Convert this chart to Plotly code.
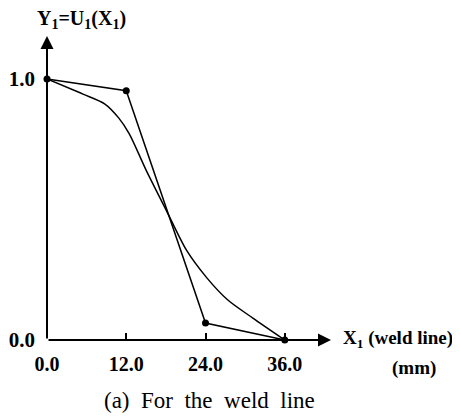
import plotly.graph_objects as go

# Control polygon (points with dots)
poly_x = [0.0, 12.0, 24.0, 36.0]
poly_y = [1.0, 0.955, 0.065, 0.0]

# Fitted membership curve
curve_x = [0.0, 5.45, 8.72, 10.85, 12.46, 15.04, 18.08, 21.12, 24.14, 27.38, 31.17, 36.0]
curve_y = [1.0, 0.942, 0.905, 0.851, 0.790, 0.649, 0.496, 0.344, 0.240, 0.153, 0.084, 0.0]

x_ticks = [0, 12, 24, 36]
x_ticktext = ["0.0", "12.0", "24.0", "36.0"]
y_ticks = [0, 1]
y_ticktext = ["0.0", "1.0"]

SERIF = "Liberation Serif"
OFF = 8  # page body margin

fig = go.Figure()
fig.add_trace(go.Scatter(x=curve_x, y=curve_y, mode="lines",
                         line=dict(color="black", width=1.5, shape="spline", smoothing=0.8),
                         showlegend=False, hoverinfo="skip"))
fig.add_trace(go.Scatter(x=poly_x, y=poly_y, mode="lines+markers",
                         line=dict(color="black", width=1.5),
                         marker=dict(color="black", size=7),
                         cliponaxis=False, showlegend=False))

# Axes with arrows
fig.add_annotation(x=43, y=0, ax=0, ay=0, xref="x", yref="y", axref="x", ayref="y",
                   showarrow=True, arrowhead=2, arrowsize=1.3, arrowwidth=2, arrowcolor="black", text="")
fig.add_annotation(x=0, y=1.165, ax=0, ay=0, xref="x", yref="y", axref="x", ayref="y",
                   showarrow=True, arrowhead=2, arrowsize=1.3, arrowwidth=2, arrowcolor="black", text="")

bold = dict(family=SERIF, size=20, color="black", weight="bold")
bold_s = dict(family=SERIF, size=19, color="black", weight="bold")
fig.add_annotation(x=81, y=19, xref="paper", yref="paper", text="Y<sub>1</sub>=U<sub>1</sub>(X<sub>1</sub>)",
                   xanchor="center", showarrow=False, font=bold)
fig.add_annotation(x=341, y=339, xref="paper", yref="paper", text="X<sub>1</sub> (weld line)",
                   xanchor="left", showarrow=False, font=bold_s)
fig.add_annotation(x=390, y=368, xref="paper", yref="paper", text="(mm)",
                   xanchor="left", showarrow=False, font=bold_s)
fig.add_annotation(x=209, y=400, xref="paper", yref="paper", text="(a)  For  the  weld  line",
                   xanchor="center", showarrow=False, font=dict(family=SERIF, size=23, color="black"))

# Convert pixel-positioned annotations (reference page coords) to paper coordinates
W, H = 460 - OFF, 419 - OFF
L, T = 47 - OFF, 32 - OFF
R, B = 129, 79
pw, ph = W - L - R, H - T - B
for a in fig.layout.annotations:
    if a.xref == "paper":
        a.x = (a.x - OFF - L) / pw
        a.y = 1 - (a.y - OFF - T) / ph
        a.yanchor = "middle"

fig.update_layout(
    width=W, height=H,
    margin=dict(l=L, r=R, t=T, b=B, autoexpand=False),
    plot_bgcolor="white", paper_bgcolor="white",
    xaxis=dict(range=[0, 43], tickvals=x_ticks, ticktext=x_ticktext, showgrid=False, zeroline=False,
               showline=False, ticks="inside", ticklen=7, tickcolor="black", tickwidth=1.5,
               ticklabelstandoff=10, tickfont=bold, automargin=False),
    yaxis=dict(range=[0, 1.18], tickvals=y_ticks, ticktext=y_ticktext, showgrid=False, zeroline=False,
               showline=False, ticks="", ticklabelstandoff=11, automargin=False,
               tickfont=dict(family=SERIF, size=21, color="black", weight="bold")),
)

fig.write_html("out.html")
